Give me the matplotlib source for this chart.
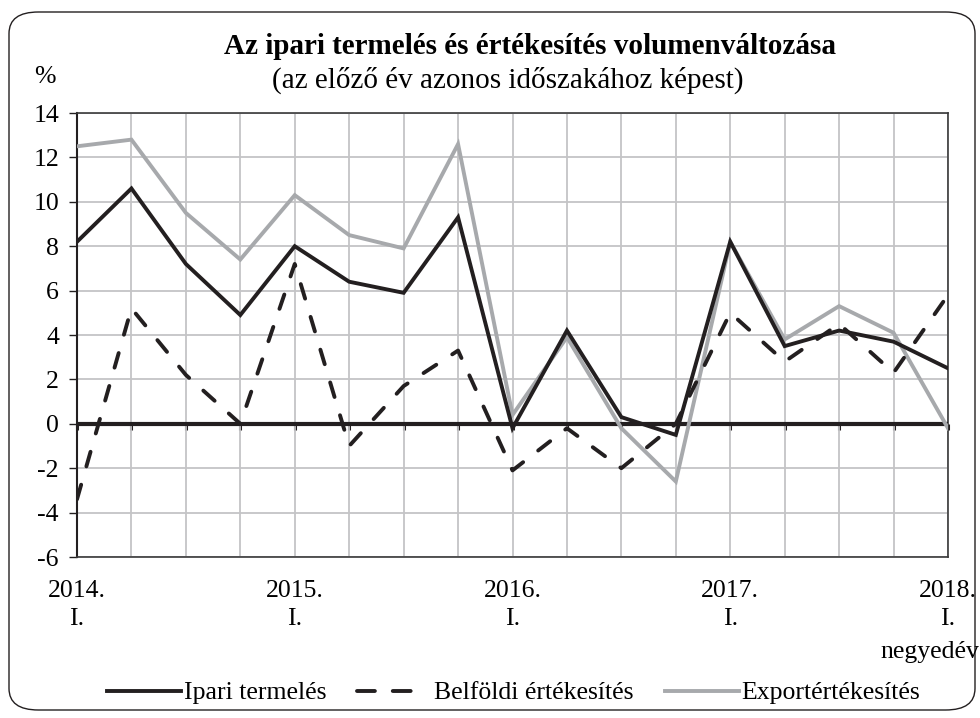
import matplotlib
matplotlib.use("Agg")
import matplotlib.pyplot as plt
from matplotlib.patches import FancyBboxPatch
from matplotlib.lines import Line2D
import numpy as np

plt.rcParams['font.family'] = ['Liberation Serif', 'DejaVu Serif']

quarters = list(range(17))
ipari = [8.2, 10.6, 7.2, 4.9, 8.0, 6.4, 5.9, 9.3, -0.2, 4.2, 0.3, -0.5, 8.2, 3.5, 4.2, 3.7, 2.5]
belfoldi = [-3.4, 5.2, 2.2, 0.0, 7.2, -1.0, 1.7, 3.3, -2.1, -0.2, -2.0, 0.0, 5.0, 2.8, 4.5, 2.3, 5.8]
export = [12.5, 12.8, 9.5, 7.4, 10.3, 8.5, 7.9, 12.6, 0.4, 3.9, -0.2, -2.6, 8.2, 3.8, 5.3, 4.1, -0.2]
year_labels = ["2014.\nI.", "2015.\nI.", "2016.\nI.", "2017.\nI.", "2018.\nI."]
series_names = ["Ipari termelés", "Belföldi értékesítés", "Exportértékesítés"]

BLACK = "#231F20"
GRAY = "#A7A9AC"
GRID = "#C4C4C6"
FS = 18.5

fig = plt.figure(figsize=(9.8, 7.18), dpi=100)
ax = fig.add_axes([77/980, 1-557/718, (948-77)/980, (557-113)/718])

# rounded frame
W, H = 980, 718
frame = FancyBboxPatch((9/W, 8/H), (975-9)/W, (706-8)/H,
                       boxstyle="round,pad=0,rounding_size=0.03",
                       transform=fig.transFigure, fill=False,
                       edgecolor=BLACK, linewidth=1.0, zorder=0)
fig.patches.append(frame)

lw = 2.8
DASH = (3.9, 4.9)
ax.plot(quarters, export, color=GRAY, lw=lw, zorder=4, solid_joinstyle='miter')
ax.plot(quarters, ipari, color=BLACK, lw=lw, zorder=5, solid_joinstyle='miter')
ax.plot(quarters, belfoldi, color=BLACK, lw=lw, zorder=6, dashes=DASH,
        dash_capstyle='round')
ax.axhline(0, color=BLACK, lw=3.0, zorder=3)

ax.set_xlim(0, 16)
ax.set_ylim(-6, 14)
ax.set_yticks(np.arange(-6, 15, 2))
ax.set_yticklabels([str(v) for v in range(-6, 15, 2)], fontsize=FS)
ax.set_xticks(quarters)
xl = [""] * 17
for i, lab in zip(range(0, 17, 4), year_labels):
    xl[i] = lab
ax.set_xticklabels(xl, fontsize=FS, linespacing=1.38)
ax.tick_params(axis='x', length=0, pad=16.5)
ax.tick_params(axis='y', length=6, width=1.0, color=BLACK, direction='out', pad=7)
ax.grid(True, color=GRID, lw=1.3, zorder=1)
for s in ax.spines.values():
    s.set_color("#3a3a3a")
    s.set_linewidth(1.2)
ax.spines['left'].set_color(BLACK)
ax.spines['left'].set_linewidth(1.5)

# tick marks on zero line
sec = ax.secondary_xaxis(6/20)
sec.set_xticks(quarters)
sec.set_xticklabels([])
sec.tick_params(axis='x', length=4, width=2.2, color=BLACK, direction='out')
sec.spines['bottom'].set_visible(False)

fig.text(0.999, 1-652/718, "negyedév", ha='right', va='center', fontsize=FS)

fig.text(530/980, 1-47/718, "Az ipari termelés és értékesítés volumenváltozása",
         ha='center', va='center', fontsize=21, fontweight='bold')
fig.text(508/980, 1-80/718, "(az előző év azonos időszakához képest)",
         ha='center', va='center', fontsize=21)
fig.text(45/980, 1-77/718, "%", ha='center', va='center', fontsize=FS)

handles = [Line2D([], [], color=BLACK, lw=lw),
           Line2D([], [], color=BLACK, lw=lw, linestyle=(0, (4.6, 4.6, 4.6, 30)),
                  dash_capstyle='round'),
           Line2D([], [], color=GRAY, lw=lw)]
fig.legend(handles, series_names, loc='center', bbox_to_anchor=(0.524, 1-693/718),
           ncol=3, frameon=False, fontsize=FS, handlelength=2.9,
           handletextpad=0.1, columnspacing=1.2)

fig.savefig("out.png", dpi=100)
